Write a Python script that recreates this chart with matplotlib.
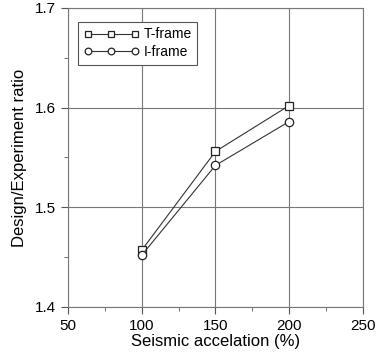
import matplotlib
matplotlib.use("Agg")
import matplotlib.pyplot as plt
from matplotlib.ticker import MultipleLocator

plt.rcParams['font.family'] = ['Liberation Sans', 'DejaVu Sans']

accel = [100, 150, 200]
t_frame = [1.457, 1.556, 1.602]
i_frame = [1.452, 1.542, 1.586]

fig = plt.figure(figsize=(3.76, 3.58), dpi=100)
ax = fig.add_axes([0.181, 0.1425, 0.784, 0.8355])

ax.plot(accel, t_frame, color='#333333', lw=0.8, marker='s', ms=6,
        mfc='white', mec='#222222', mew=0.9, label='T-frame')
ax.plot(accel, i_frame, color='#333333', lw=0.8, marker='o', ms=6,
        mfc='white', mec='#222222', mew=0.9, label='I-frame')

ax.set_xlim(50, 250)
ax.set_ylim(1.4, 1.7)
ax.xaxis.set_major_locator(MultipleLocator(50))
ax.xaxis.set_minor_locator(MultipleLocator(25))
ax.yaxis.set_major_locator(MultipleLocator(0.1))
ax.yaxis.set_minor_locator(MultipleLocator(0.05))
ax.grid(True, which='major', color='#777777', lw=0.8)
ax.set_axisbelow(True)
for s in ax.spines.values():
    s.set_color('#777777')
    s.set_linewidth(0.8)
ax.tick_params(which='both', direction='out', colors='#555555', labelcolor='black',
               labelsize=11, top=False, right=False)
ax.tick_params(which='major', length=5)
ax.tick_params(which='minor', length=3)

ax.set_xlabel('Seismic accelation (%)', fontsize=12, labelpad=1)
ax.set_ylabel('Design/Experiment ratio', fontsize=12, labelpad=6)

leg = ax.legend(loc='upper left', bbox_to_anchor=(0.034, 0.953), borderaxespad=0,
                numpoints=3, markerscale=0.8, fontsize=10, fancybox=False,
                framealpha=1, edgecolor='#555555', handlelength=4.0,
                handletextpad=0.3, borderpad=0.4, labelspacing=0.25)
leg.get_frame().set_linewidth(0.8)

fig.savefig('out.png', dpi=100)
